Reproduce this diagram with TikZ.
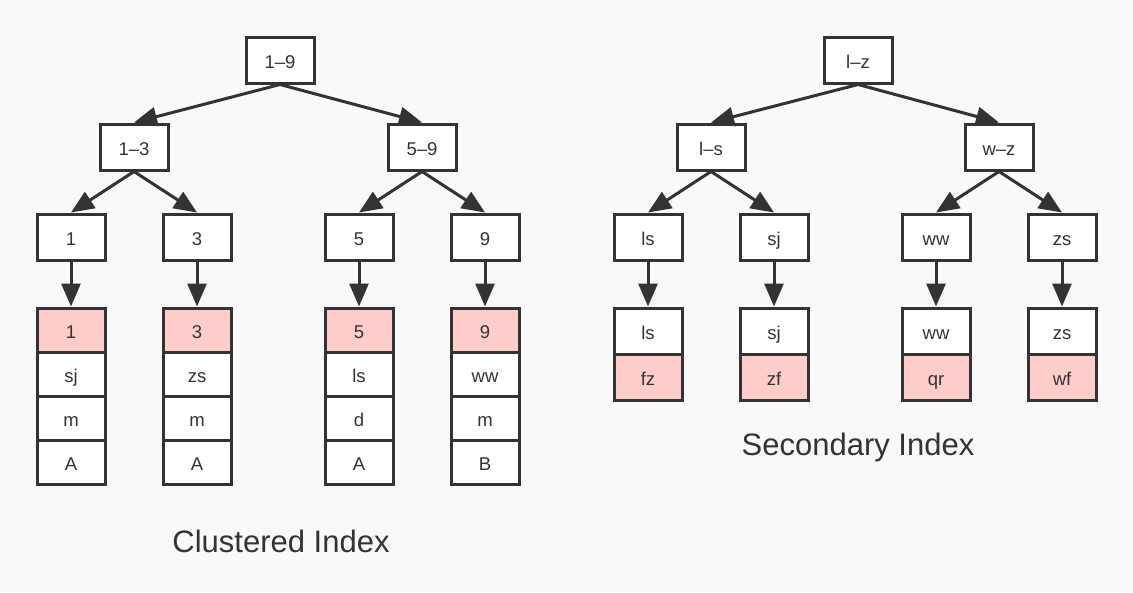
\documentclass[tikz,border=0pt]{standalone}
\usepackage{fontspec}
\setmainfont{Liberation Sans}
\usetikzlibrary{arrows.meta}
\definecolor{ink}{HTML}{333333}
\definecolor{keyfill}{HTML}{FFCCCC}
\definecolor{paper}{HTML}{F9F9F9}
\begin{document}
\begin{tikzpicture}[x=1pt,y=-1pt,
  box/.style={draw=ink, line width=3pt, fill=white, minimum width=68pt,
    minimum height=46pt, inner sep=0pt, text=ink,
    text height=18pt, text depth=1pt, font=\fontsize{18.5}{20}\selectfont},
  row/.style={box, minimum height=44pt},
  key/.style={fill=keyfill},
  link/.style={draw=ink, line width=3pt, -{Triangle[length=23pt,width=19pt]}},
  caption/.style={text=ink, font=\fontsize{31}{34}\selectfont}]
\fill[paper] (0,0) rectangle (1133,592);
\useasboundingbox (0,0) rectangle (1133,592);

% ---------- clustered index ----------
\node[box] (c19) at (280,60) {1–9};
\node[box] (c13) at (134,147) {1–3};
\node[box] (c59) at (422,147) {5–9};
\node[box] (c1) at (71,237) {1};
\node[box] (c3) at (197,237) {3};
\node[box] (c5) at (359,237) {5};
\node[box] (c9) at (485,237) {9};

% full rows stored in the leaves
\node[row,key] (r1a) at (71,330) {1};
\node[row] (r1b) at (71,374) {sj};
\node[row] (r1c) at (71,418) {m};
\node[row] (r1d) at (71,462) {A};

\node[row,key] (r3a) at (197,330) {3};
\node[row] (r3b) at (197,374) {zs};
\node[row] (r3c) at (197,418) {m};
\node[row] (r3d) at (197,462) {A};

\node[row,key] (r5a) at (359,330) {5};
\node[row] (r5b) at (359,374) {ls};
\node[row] (r5c) at (359,418) {d};
\node[row] (r5d) at (359,462) {A};

\node[row,key] (r9a) at (485,330) {9};
\node[row] (r9b) at (485,374) {ww};
\node[row] (r9c) at (485,418) {m};
\node[row] (r9d) at (485,462) {B};

\draw[link] (c19.south) -- (c13.north);
\draw[link] (c19.south) -- (c59.north);
\draw[link] (c13.south) -- (c1.north);
\draw[link] (c13.south) -- (c3.north);
\draw[link] (c59.south) -- (c5.north);
\draw[link] (c59.south) -- (c9.north);
\draw[link] (c1.south) -- (r1a.north);
\draw[link] (c3.south) -- (r3a.north);
\draw[link] (c5.south) -- (r5a.north);
\draw[link] (c9.south) -- (r9a.north);

\node[caption] (ctitle) at (281,541) {Clustered Index};

% ---------- secondary index ----------
\node[box] (slz) at (858,60) {l–z};
\node[box] (sls) at (711,147) {l–s};
\node[box] (swz) at (999,147) {w–z};
\node[box] (s1) at (648,237) {ls};
\node[box] (s2) at (774,237) {sj};
\node[box] (s3) at (936,237) {ww};
\node[box] (s4) at (1062,237) {zs};

% index key plus primary key
\node[box] (k1a) at (648,331) {ls};
\node[box,key] (k1b) at (648,377) {fz};
\node[box] (k2a) at (774,331) {sj};
\node[box,key] (k2b) at (774,377) {zf};
\node[box] (k3a) at (936,331) {ww};
\node[box,key] (k3b) at (936,377) {qr};
\node[box] (k4a) at (1062,331) {zs};
\node[box,key] (k4b) at (1062,377) {wf};

\draw[link] (slz.south) -- (sls.north);
\draw[link] (slz.south) -- (swz.north);
\draw[link] (sls.south) -- (s1.north);
\draw[link] (sls.south) -- (s2.north);
\draw[link] (swz.south) -- (s3.north);
\draw[link] (swz.south) -- (s4.north);
\draw[link] (s1.south) -- (k1a.north);
\draw[link] (s2.south) -- (k2a.north);
\draw[link] (s3.south) -- (k3a.north);
\draw[link] (s4.south) -- (k4a.north);

\node[caption] (stitle) at (858,447) {Secondary Index};
\end{tikzpicture}
\end{document}
